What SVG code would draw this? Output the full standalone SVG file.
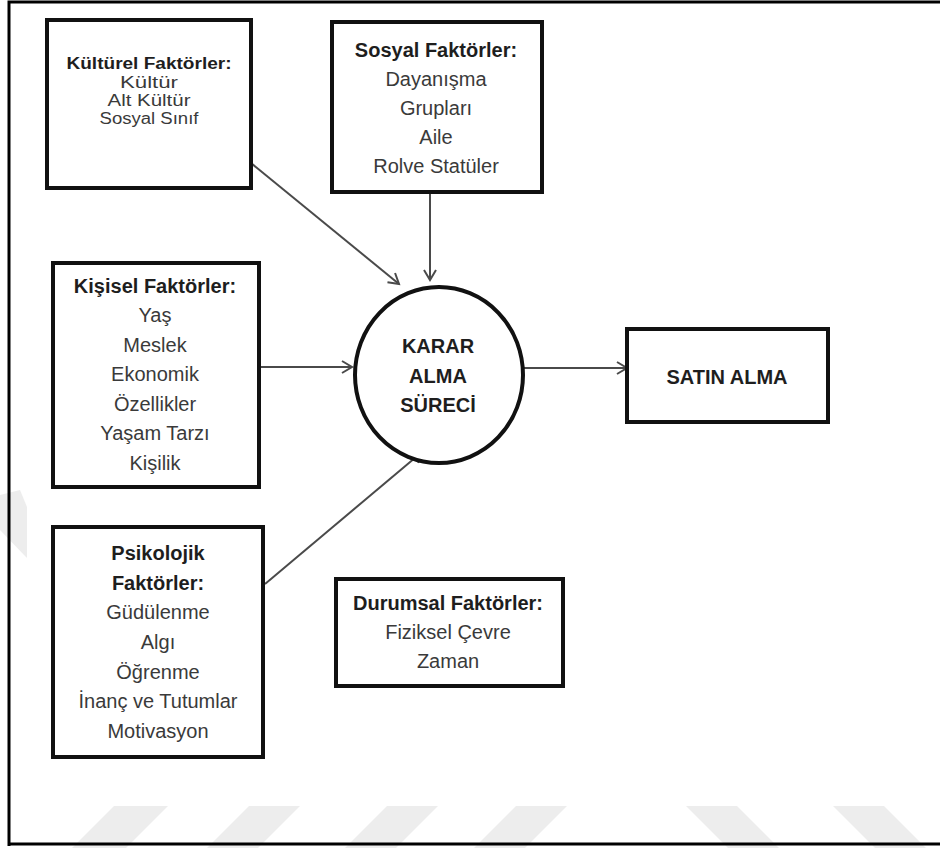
<svg xmlns="http://www.w3.org/2000/svg" width="940" height="848" viewBox="0 0 940 848">
<style>
.box{fill:#fff;stroke:#111;stroke-width:4}
.ell{fill:#fff;stroke:#111;stroke-width:4}
.hd{font-family:"Liberation Sans",Arial,sans-serif;font-weight:bold;fill:#1e1e1e;text-anchor:middle}
.it{font-family:"Liberation Sans",Arial,sans-serif;fill:#3a3a3a;text-anchor:middle}
.f20{font-size:20px}
.f16{font-size:16px}
.con{stroke:#4a4a4a;stroke-width:2;fill:none;marker-end:url(#ah)}
.wm{fill:#ededed;stroke:none}
.frame{stroke:#000;stroke-width:3;fill:none}
</style>
<defs>
<marker id="ah" markerUnits="userSpaceOnUse" markerWidth="14" markerHeight="14" refX="11" refY="7" orient="auto" viewBox="0 0 14 14">
<path d="M1,1 L11,7 L1,13" fill="none" stroke="#4a4a4a" stroke-width="2"/>
</marker>
</defs>
<rect x="0" y="0" width="940" height="848" fill="#fff"/>
<g id="watermark">
<polygon class="wm" points="114,806 168,806 126,848 72,848"/>
<polygon class="wm" points="249,806 300,806 258,848 207,848"/>
<polygon class="wm" points="387,806 438,806 396,848 345,848"/>
<polygon class="wm" points="516,806 567,806 525,848 474,848"/>
<polygon class="wm" points="686,806 737,806 779,848 728,848"/>
<polygon class="wm" points="833,806 884,806 926,848 875,848"/>
<polygon class="wm" points="0,495 20,490 27,507 27,558 0,530"/>
</g>
<g id="frame">
<path class="frame" d="M9,846 L9,2 L940,2"/>
<path class="frame" d="M9,844 L940,844"/>
</g>
<g id="connectors">
<line class="con" x1="251" y1="163" x2="399" y2="284"/>
<line class="con" x1="430" y1="192" x2="430" y2="280"/>
<line class="con" x1="259" y1="367" x2="352" y2="367"/>
<line class="con" x1="265" y1="584" x2="422" y2="452"/>
<line class="con" x1="523" y1="368" x2="627" y2="368"/>
</g>
<g id="kulturel">
<rect class="box" x="47" y="20" width="204" height="168"/>
<text class="hd f16" x="149" y="69" textLength="165" lengthAdjust="spacingAndGlyphs">Kültürel Faktörler:</text>
<text class="it f16" x="149" y="88" textLength="58" lengthAdjust="spacingAndGlyphs">Kültür</text>
<text class="it f16" x="149" y="106" textLength="83" lengthAdjust="spacingAndGlyphs">Alt Kültür</text>
<text class="it f16" x="149" y="124" textLength="99" lengthAdjust="spacingAndGlyphs">Sosyal Sınıf</text>
</g>
<g id="sosyal">
<rect class="box" x="332" y="22" width="210" height="170"/>
<text class="hd f20" x="436" y="57">Sosyal Faktörler:</text>
<text class="it f20" x="436" y="86">Dayanışma</text>
<text class="it f20" x="436" y="115">Grupları</text>
<text class="it f20" x="436" y="144">Aile</text>
<text class="it f20" x="436" y="173">Rolve Statüler</text>
</g>
<g id="kisisel">
<rect class="box" x="53" y="263" width="206" height="224"/>
<text class="hd f20" x="155" y="293">Kişisel Faktörler:</text>
<text class="it f20" x="155" y="322">Yaş</text>
<text class="it f20" x="155" y="352">Meslek</text>
<text class="it f20" x="155" y="381">Ekonomik</text>
<text class="it f20" x="155" y="411">Özellikler</text>
<text class="it f20" x="155" y="440">Yaşam Tarzı</text>
<text class="it f20" x="155" y="470">Kişilik</text>
</g>
<g id="karar">
<ellipse class="ell" cx="439" cy="375" rx="84" ry="88"/>
<text class="hd f20" x="438" y="353">KARAR</text>
<text class="hd f20" x="438" y="383">ALMA</text>
<text class="hd f20" x="438" y="412">SÜRECİ</text>
</g>
<g id="satin">
<rect class="box" x="627" y="329" width="201" height="93"/>
<text class="hd f20" x="727" y="384">SATIN ALMA</text>
</g>
<g id="psikolojik">
<rect class="box" x="53" y="527" width="210" height="230"/>
<text class="hd f20" x="158" y="560">Psikolojik</text>
<text class="hd f20" x="158" y="590">Faktörler:</text>
<text class="it f20" x="158" y="619">Güdülenme</text>
<text class="it f20" x="158" y="649">Algı</text>
<text class="it f20" x="158" y="679">Öğrenme</text>
<text class="it f20" x="158" y="708">İnanç ve Tutumlar</text>
<text class="it f20" x="158" y="738">Motivasyon</text>
</g>
<g id="durumsal">
<rect class="box" x="336" y="579" width="227" height="107"/>
<text class="hd f20" x="448" y="610">Durumsal Faktörler:</text>
<text class="it f20" x="448" y="639">Fiziksel Çevre</text>
<text class="it f20" x="448" y="668">Zaman</text>
</g>
</svg>
